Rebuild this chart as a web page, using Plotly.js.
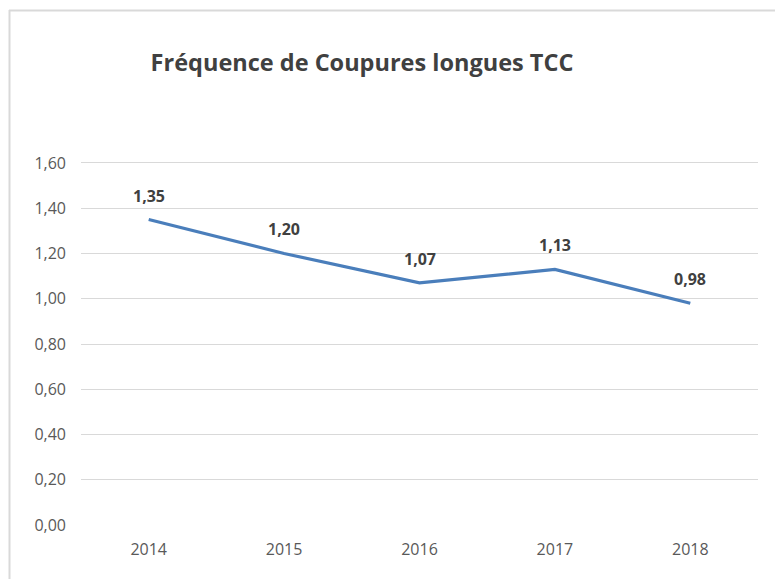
<!DOCTYPE html>
<html>
<head>
<meta charset="utf-8">
<script src="https://cdn.plot.ly/plotly-3.0.1.min.js"></script>
<style>html,body{margin:0;padding:0;background:#fff;} #chart{width:775px;height:579px;}</style>
</head>
<body>
<div id="chart"></div>
<script>
const years = ["2014", "2015", "2016", "2017", "2018"];
const frequence = [1.35, 1.20, 1.07, 1.13, 0.98];
const yTickValues = [0, 0.2, 0.4, 0.6, 0.8, 1.0, 1.2, 1.4, 1.6];
const yTickLabels = ["0,00", "0,20", "0,40", "0,60", "0,80", "1,00", "1,20", "1,40", "1,60"];
const titleText = "Fréquence de Coupures longues TCC";

const fmt = v => v.toFixed(2).replace(".", ",");

const trace = {
  x: years,
  y: frequence,
  type: "scatter",
  mode: "lines",
  line: {color: "#4a7ebb", width: 3.2},
  hoverinfo: "skip"
};

const annotations = years.map((yr, i) => ({
  x: i, y: frequence[i], xref: "x", yref: "y",
  text: "<b>" + fmt(frequence[i]) + "</b>", showarrow: false, yshift: 24,
  font: {family: "Open Sans", size: 16, color: "#404040"}
}));

// plot area left=81, right=758, top=161, bottom=525
const pw = 677, ph = 364;
const px = p => (p - 81) / pw;
const py = p => (525 - p) / ph;

const layout = {
  width: 775, height: 579,
  margin: {l: 81, r: 17, t: 161, b: 54},
  paper_bgcolor: "#ffffff",
  plot_bgcolor: "#ffffff",
  showlegend: false,
  title: {
    text: "<b>" + titleText + "</b>",
    x: 362 / 775, xanchor: "center", xref: "container",
    y: 1 - 63 / 579, yanchor: "middle", yref: "container",
    font: {family: "Open Sans", size: 23.5, color: "#404040"}
  },
  xaxis: {
    type: "category",
    range: [-0.5, 4.5],
    showgrid: false, zeroline: false, showline: false, ticks: "",
    tickfont: {family: "Open Sans", size: 16, color: "#595959"},
    ticklabelstandoff: 13,
    fixedrange: true
  },
  yaxis: {
    range: [0, 1.6088],
    tickvals: yTickValues, ticktext: yTickLabels,
    showgrid: true, gridcolor: "#d9d9d9", gridwidth: 1,
    zeroline: false, showline: false, ticks: "",
    tickfont: {family: "Open Sans", size: 16, color: "#595959"},
    ticklabelstandoff: 14,
    fixedrange: true
  },
  annotations: annotations,
  shapes: [
    {type: "line", xref: "paper", yref: "paper", x0: px(9.5), x1: px(9.5), y0: py(10), y1: py(600), line: {color: "#d9d9d9", width: 2}},
    {type: "line", xref: "paper", yref: "paper", x0: px(9), x1: px(800), y0: py(10.5), y1: py(10.5), line: {color: "#d9d9d9", width: 2}}
  ]
};

Plotly.newPlot("chart", [trace], layout, {displayModeBar: false, staticPlot: true});
</script>
</body>
</html>
